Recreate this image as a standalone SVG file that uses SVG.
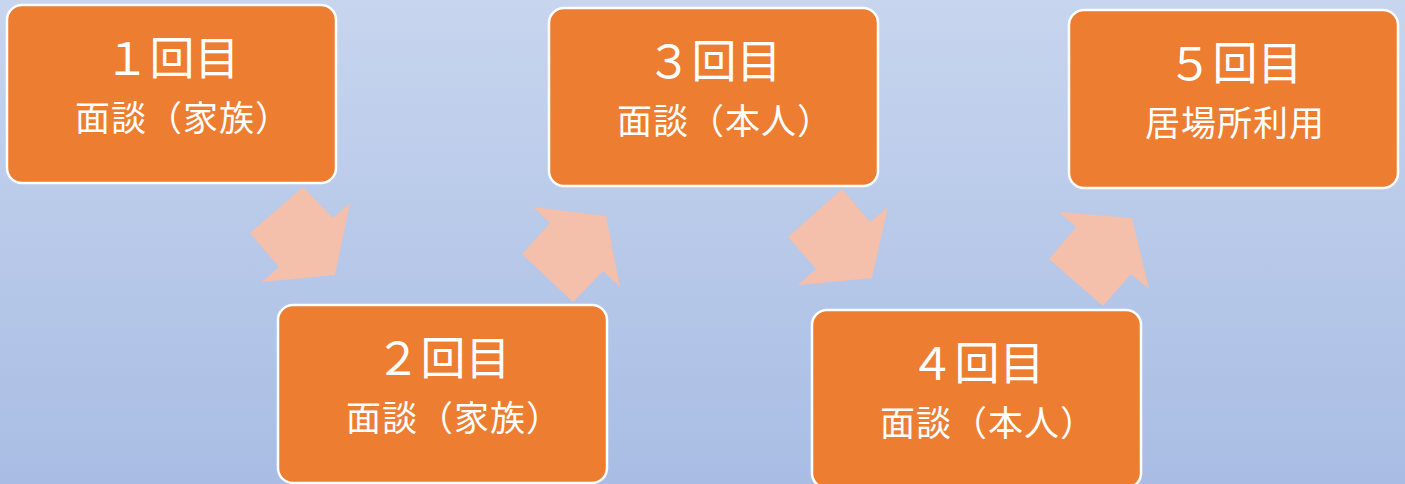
<svg xmlns="http://www.w3.org/2000/svg" width="1405" height="484" viewBox="0 0 1405 484">
<defs>
<linearGradient id="bg" x1="0" y1="0" x2="0" y2="1">
<stop offset="0" stop-color="#c7d5ee"/>
<stop offset="1" stop-color="#a9bde4"/>
</linearGradient>
<style>
.box{fill:#ed7d31;stroke:#ffffff;stroke-width:2.5}
.arrow{fill:#f4bfab;stroke:none}
.t1{font-family:"Noto Sans CJK JP","Noto Sans",sans-serif;font-size:45px;fill:#ffffff;text-anchor:middle}
.t2{font-family:"Noto Sans CJK JP","Noto Sans",sans-serif;font-size:35px;letter-spacing:1px;fill:#ffffff;text-anchor:middle}
</style>
</defs>
<rect x="0" y="0" width="1405" height="484" fill="url(#bg)"/>
<g id="connectors">
<polygon class="arrow" points="250,233 303,187 333,218 350,203 335,275 262,282 279,267"/>
<polygon class="arrow" points="533,207 606,216 620,287 603,271 573,302 522,254 550,223"/>
<polygon class="arrow" points="788,237 842,189 870,222 888,207 872,278 798,285 816,269"/>
<polygon class="arrow" points="1059,212 1132,218 1149,289 1131,274 1103,306 1049,259 1076,227"/>
</g>
<g id="node1">
<rect class="box" x="7" y="5" width="329" height="178" rx="15"/>
<text class="t1" x="172" y="75">１回目</text>
<text class="t2" x="183" y="131">面談（家族）</text>
</g>
<g id="node2">
<rect class="box" x="278" y="305" width="329" height="178" rx="15"/>
<text class="t1" x="443" y="375">２回目</text>
<text class="t2" x="454" y="431">面談（家族）</text>
</g>
<g id="node3">
<rect class="box" x="549" y="8" width="329" height="178" rx="15"/>
<text class="t1" x="714" y="78">３回目</text>
<text class="t2" x="725" y="134">面談（本人）</text>
</g>
<g id="node4">
<rect class="box" x="812" y="310" width="329" height="178" rx="15"/>
<text class="t1" x="977" y="380">４回目</text>
<text class="t2" x="988" y="436">面談（本人）</text>
</g>
<g id="node5">
<rect class="box" x="1069" y="10" width="329" height="178" rx="15"/>
<text class="t1" x="1235" y="80">５回目</text>
<text class="t2" x="1235" y="136">居場所利用</text>
</g>
</svg>
